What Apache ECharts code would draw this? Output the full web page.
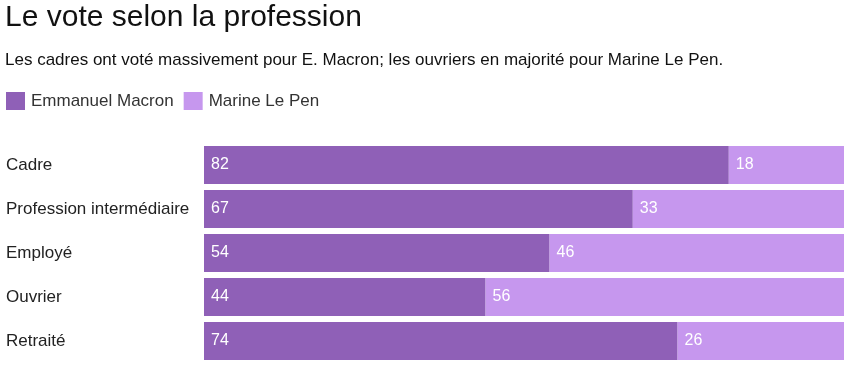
<!DOCTYPE html>
<html><head><meta charset="utf-8">
<script src="https://cdn.jsdelivr.net/npm/echarts@6/dist/echarts.min.js"></script>
<style>html,body{margin:0;padding:0;background:#fff}#c{width:853px;height:371px}</style>
</head><body><div id="c"></div>
<script>
const categories = ["Cadre", "Profession intermédiaire", "Employé", "Ouvrier", "Retraité"];
const macron = [82, 67, 54, 44, 74];
const lepen = [18, 33, 46, 56, 26];
const seriesNames = ["Emmanuel Macron", "Marine Le Pen"];
const colors = ["#8f60b7", "#c697ee"];
const FONT = "'Liberation Sans', Arial, sans-serif";

const chart = echarts.init(document.getElementById('c'), null, {renderer: 'canvas'});
const labelStyle = {show: true, position: 'insideLeft', distance: 7, color: '#fff', fontSize: 16, fontFamily: FONT};
chart.setOption({
  animation: false,
  title: [
    {text: "Le vote selon la profession", left: 5, top: 3, padding: 0, textStyle: {fontSize: 30, fontWeight: 'normal', color: '#111', fontFamily: FONT}},
    {text: "Les cadres ont voté massivement pour E. Macron; les ouvriers en majorité pour Marine Le Pen.", left: 5, top: 52, padding: 0, textStyle: {fontSize: 17, fontWeight: 'normal', color: '#111', fontFamily: FONT}}
  ],
  legend: {
    left: 6, top: 92, padding: 0, icon: 'rect', itemWidth: 19, itemHeight: 18, itemGap: 10,
    textStyle: {fontSize: 17, color: '#333', fontFamily: FONT, padding: [0, 0, 0, 1]},
    data: seriesNames
  },
  grid: {left: 204, right: 9, top: 143, height: 220, containLabel: false},
  xAxis: {type: 'value', min: 0, max: 100, show: false},
  yAxis: {
    type: 'category', data: categories, inverse: true,
    axisLine: {show: false}, axisTick: {show: false},
    axisLabel: {align: 'left', margin: 198, fontSize: 17, color: '#222', fontFamily: FONT}
  },
  series: [
    {name: seriesNames[0], type: 'bar', stack: 'v', data: macron, barWidth: 38, itemStyle: {color: colors[0]}, label: labelStyle},
    {name: seriesNames[1], type: 'bar', stack: 'v', data: lepen, barWidth: 38, itemStyle: {color: colors[1]}, label: labelStyle}
  ]
});
</script></body></html>
